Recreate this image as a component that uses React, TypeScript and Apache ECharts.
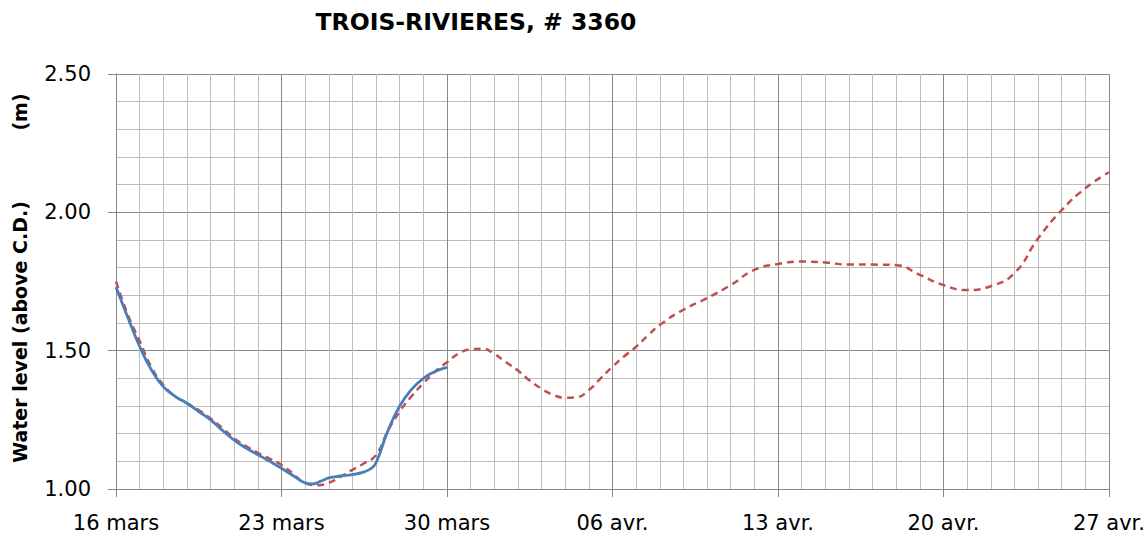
import React, { useEffect, useRef } from "react";
import * as echarts from "echarts";

const TITLE = "TROIS-RIVIERES, # 3360";
const X_TICK_LABELS = ["16 mars", "23 mars", "30 mars", "06 avr.", "13 avr.", "20 avr.", "27 avr."];

// day offset from 16 mars
const OBS_DAYS = [0, 0.5, 1, 1.5, 2, 2.5, 3, 3.5, 4, 4.5, 5, 5.5, 6, 6.5, 7, 7.5, 8, 8.3, 8.7, 9, 9.5, 10, 10.5, 10.8, 11, 11.5, 12, 12.5, 13, 13.5, 14];
const OBS_LEVEL = [1.73, 1.62, 1.515, 1.43, 1.37, 1.335, 1.31, 1.28, 1.25, 1.212, 1.177, 1.148, 1.124, 1.1, 1.075, 1.048, 1.022, 1.018, 1.03, 1.04, 1.047, 1.052, 1.062, 1.075, 1.095, 1.21, 1.3, 1.36, 1.4, 1.425, 1.44];

const FC_DAYS = [0, 0.5, 1, 1.5, 2, 2.5, 3, 3.5, 4, 4.5, 5, 5.5, 6, 6.5, 7, 7.5, 8, 8.5, 9, 9.5, 10, 10.5, 11, 11.5, 12, 12.5, 13, 13.5, 14, 14.5, 15, 15.5, 16, 16.5, 17, 17.5, 18, 18.5, 19, 19.5, 20, 20.5, 21, 21.5, 22, 22.5, 23, 24, 25, 26, 27, 28, 29, 30, 31, 32, 33, 34, 35, 36, 37, 38, 39, 40, 41, 42];
const FC_LEVEL = [1.75, 1.63, 1.535, 1.44, 1.376, 1.335, 1.31, 1.285, 1.255, 1.22, 1.183, 1.155, 1.131, 1.11, 1.087, 1.055, 1.022, 1.014, 1.022, 1.045, 1.069, 1.093, 1.123, 1.21, 1.28, 1.335, 1.382, 1.425, 1.458, 1.49, 1.505, 1.507, 1.488, 1.458, 1.428, 1.392, 1.362, 1.34, 1.33, 1.332, 1.358, 1.4, 1.442, 1.48, 1.514, 1.555, 1.593, 1.648, 1.69, 1.737, 1.792, 1.813, 1.822, 1.819, 1.811, 1.811, 1.809, 1.774, 1.737, 1.719, 1.733, 1.78, 1.905, 2.008, 2.087, 2.145];

const FONT = "'DejaVu Sans', 'Open Sans', sans-serif";

export default function App() {
  const ref = useRef<HTMLDivElement>(null);
  useEffect(() => {
    if (!ref.current) return;
    document.body.style.margin = "0";
    document.body.style.overflow = "hidden";
    const chart = echarts.init(ref.current, undefined, { renderer: "svg" });
    const obs = OBS_DAYS.map((d, i) => [d, OBS_LEVEL[i]]);
    const fc = FC_DAYS.map((d, i) => [d, FC_LEVEL[i]]);
    chart.setOption({
      animation: false,
      backgroundColor: "#ffffff",
      title: {
        text: TITLE,
        left: 471,
        top: 5,
        textAlign: "center",
        textStyle: { fontFamily: FONT, fontWeight: "bold", fontSize: 23.5, color: "#000" },
      },
      graphic: [
        {
          type: "text",
          x: 20,
          y: 332,
          rotation: Math.PI / 2,
          style: {
            text: "Water level (above C.D.)",
            font: `bold 19px ${FONT}`,
            fill: "#000",
            align: "center",
            verticalAlign: "middle",
            textAlign: "center",
            textVerticalAlign: "middle",
          },
        },
        {
          type: "text",
          x: 20,
          y: 112,
          rotation: Math.PI / 2,
          style: {
            text: "(m)",
            font: `bold 19px ${FONT}`,
            fill: "#000",
            align: "center",
            verticalAlign: "middle",
            textAlign: "center",
            textVerticalAlign: "middle",
          },
        },
      ],
      grid: { left: 116, right: 37, top: 74, bottom: 48, containLabel: false },
      xAxis: {
        type: "value",
        min: 0,
        max: 42,
        interval: 7,
        axisLine: { show: true, lineStyle: { color: "#868686", width: 1 } },
        axisTick: { show: true, length: 8, lineStyle: { color: "#868686" } },
        minorTick: { show: false, splitNumber: 7 },
        axisLabel: {
          margin: 23,
          fontFamily: FONT,
          fontSize: 21,
          color: "#000",
          formatter: (v: number) => X_TICK_LABELS[Math.round(v / 7)] ?? "",
        },
        splitLine: { show: true, lineStyle: { color: "#8a8a8a", width: 1 } },
        minorSplitLine: { show: true, lineStyle: { color: "#bdbdbd", width: 1 } },
      },
      yAxis: {
        type: "value",
        min: 1,
        max: 2.5,
        interval: 0.5,
        axisLine: { show: true, lineStyle: { color: "#868686", width: 1 } },
        axisTick: { show: true, length: 8, lineStyle: { color: "#868686" } },
        minorTick: { show: false, splitNumber: 5 },
        axisLabel: {
          margin: 25,
          fontFamily: FONT,
          fontSize: 21,
          color: "#000",
          formatter: (v: number) => v.toFixed(2),
        },
        splitLine: { show: true, lineStyle: { color: "#8a8a8a", width: 1 } },
        minorSplitLine: { show: true, lineStyle: { color: "#bdbdbd", width: 1 } },
      },
      series: [
        {
          name: "Forecast",
          type: "line",
          data: fc,
          smooth: 0.5,
          showSymbol: false,
          symbol: "none",
          lineStyle: { color: "#C0504D", width: 2.5, type: [7, 5] },
          z: 3,
        },
        {
          name: "Observed",
          type: "line",
          data: obs,
          smooth: 0.5,
          showSymbol: false,
          symbol: "none",
          lineStyle: { color: "#4A7EBB", width: 2.8 },
          z: 4,
        },
      ],
    });
    return () => chart.dispose();
  }, []);
  return (
    <div
      ref={ref}
      style={{ position: "fixed", left: 0, top: 0, width: 1148, height: 537, overflow: "hidden" }}
    />
  );
}
